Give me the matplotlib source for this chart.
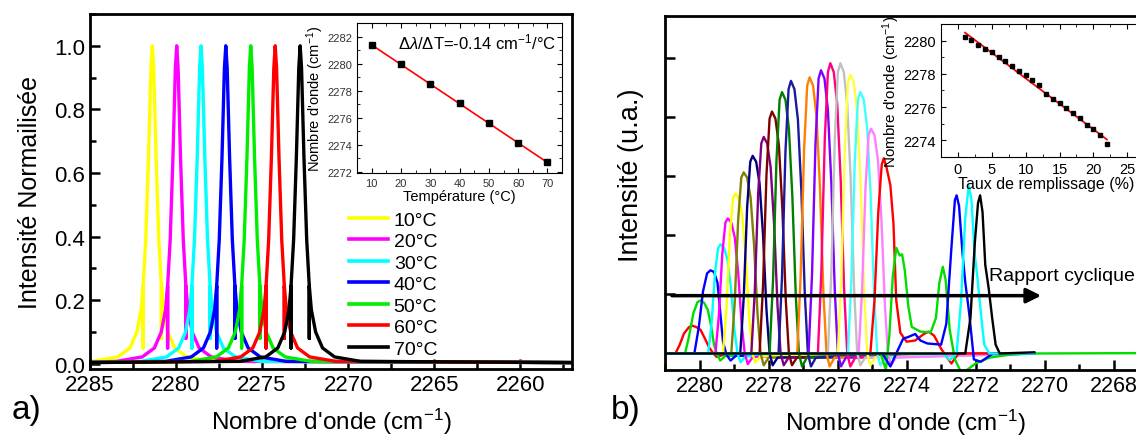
import matplotlib
matplotlib.use("Agg")
import matplotlib.pyplot as plt
from matplotlib.lines import Line2D
from matplotlib.ticker import MultipleLocator, NullFormatter

plt.rcParams['font.family'] = ['Liberation Sans', 'DejaVu Sans']
plt.rcParams['mathtext.fontset'] = 'custom'
plt.rcParams['mathtext.rm'] = 'Liberation Sans'
plt.rcParams['mathtext.it'] = 'Liberation Sans:italic'

# ---------- panel a) : normalised spectra vs temperature ----------
labels_a = ['10°C', '20°C', '30°C', '40°C', '50°C', '60°C', '70°C']
colors_a = ['#ffff00', '#ff00ff', '#00ffff', '#0000ff', '#00ee00', '#ff0000', '#000000']
level_a = [0.004, 0.008, 0.022, 0.05, 0.1, 0.17, 0.245, 0.05, 0.245, 0.39, 0.65, 0.93, 1.0,
           0.93, 0.65, 0.39, 0.245, 0.08, 0.245, 0.17, 0.1, 0.05, 0.022, 0.008, 0.004]
x_10 = [2285.5, 2284.88, 2283.38, 2282.68, 2282.28, 2282.03, 2281.91, 2281.91, 2281.91, 2281.76, 2281.60, 2281.46, 2281.38,
        2281.30, 2281.16, 2281.00, 2280.85, 2280.85, 2280.85, 2280.73, 2280.48, 2280.08, 2279.38, 2277.88, 2256.5]
x_20 = [2285.5, 2283.46, 2281.96, 2281.26, 2280.86, 2280.61, 2280.49, 2280.49, 2280.49, 2280.34, 2280.18, 2280.04, 2279.96,
        2279.88, 2279.74, 2279.58, 2279.43, 2279.43, 2279.43, 2279.31, 2279.06, 2278.66, 2277.96, 2276.46, 2256.5]
x_30 = [2285.5, 2282.05, 2280.55, 2279.85, 2279.45, 2279.20, 2279.08, 2279.08, 2279.08, 2278.93, 2278.77, 2278.63, 2278.55,
        2278.47, 2278.33, 2278.17, 2278.02, 2278.02, 2278.02, 2277.90, 2277.65, 2277.25, 2276.55, 2275.05, 2256.5]
x_40 = [2285.5, 2280.61, 2279.11, 2278.41, 2278.01, 2277.76, 2277.64, 2277.64, 2277.64, 2277.49, 2277.33, 2277.19, 2277.11,
        2277.03, 2276.89, 2276.73, 2276.58, 2276.58, 2276.58, 2276.46, 2276.21, 2275.81, 2275.11, 2273.61, 2256.5]
x_50 = [2285.5, 2279.16, 2277.66, 2276.96, 2276.56, 2276.31, 2276.19, 2276.19, 2276.19, 2276.04, 2275.88, 2275.74, 2275.66,
        2275.58, 2275.44, 2275.28, 2275.13, 2275.13, 2275.13, 2275.01, 2274.76, 2274.36, 2273.66, 2272.16, 2256.5]
x_60 = [2285.5, 2277.74, 2276.24, 2275.54, 2275.14, 2274.89, 2274.77, 2274.77, 2274.77, 2274.62, 2274.46, 2274.32, 2274.24,
        2274.16, 2274.02, 2273.86, 2273.71, 2273.71, 2273.71, 2273.59, 2273.34, 2272.94, 2272.24, 2270.74, 2256.5]
x_70 = [2285.5, 2276.29, 2274.79, 2274.09, 2273.69, 2273.44, 2273.32, 2273.32, 2273.32, 2273.17, 2273.01, 2272.87, 2272.79,
        2272.71, 2272.57, 2272.41, 2272.26, 2272.26, 2272.26, 2272.14, 2271.89, 2271.49, 2270.79, 2269.29, 2256.5]
spectra_a_x = [x_10, x_20, x_30, x_40, x_50, x_60, x_70]

temps = [10, 20, 30, 40, 50, 60, 70]
peak_pos_a = [2281.4, 2279.95, 2278.5, 2277.05, 2275.6, 2274.15, 2272.7]
fit_a_x = [10, 70]
fit_a_y = [2281.38, 2272.68]

# ---------- panel b) : spectra vs duty cycle ----------
colors_b = ['#ff0000', '#00dd00', '#0000ff', '#00ffff', '#ff00ff', '#ffff00', '#808000', '#000080',
            '#800080', '#800000', '#008000', '#1a1aa0', '#ff8000', '#8000ff', '#ff0080', '#c0c0c0',
            '#ffff40', '#40ffff', '#ff80ff', '#ff0000', '#00dd00', '#0000ff', '#00ffff', '#000000']
spectra_b_x = [
    [2280.95, 2280.7, 2280.58, 2280.45, 2280.3, 2280.21, 2280.1, 2279.97, 2279.85, 2279.72, 2279.6, 2279.5, 2279.3, 2270.3],
    [2280.95, 2280.42, 2280.3, 2280.18, 2280.06, 2279.97, 2279.87, 2279.76, 2279.66, 2279.58, 2279.5, 2279.4, 2279.25, 2270.3],
    [2280.95, 2280.15, 2280.02, 2279.9, 2279.78, 2279.68, 2279.58, 2279.48, 2279.4, 2279.32, 2279.22, 2279.1, 2278.95, 2270.3],
    [2280.95, 2279.75, 2279.65, 2279.55, 2279.46, 2279.39, 2279.29, 2279.19, 2279.09, 2278.99, 2278.90, 2278.81, 2278.67, 2270.3],
    [2280.95, 2279.54, 2279.44, 2279.34, 2279.25, 2279.18, 2279.08, 2278.98, 2278.88, 2278.78, 2278.69, 2278.60, 2278.46, 2270.3],
    [2280.95, 2279.32, 2279.22, 2279.12, 2279.03, 2278.96, 2278.86, 2278.76, 2278.66, 2278.56, 2278.47, 2278.38, 2278.24, 2270.3],
    [2280.95, 2279.08, 2278.98, 2278.88, 2278.79, 2278.72, 2278.62, 2278.52, 2278.42, 2278.32, 2278.23, 2278.14, 2278.00, 2270.3],
    [2280.95, 2278.82, 2278.72, 2278.62, 2278.53, 2278.46, 2278.36, 2278.26, 2278.16, 2278.06, 2277.97, 2277.88, 2277.74, 2270.3],
    [2280.95, 2278.50, 2278.40, 2278.30, 2278.21, 2278.14, 2278.04, 2277.94, 2277.84, 2277.74, 2277.65, 2277.56, 2277.42, 2270.3],
    [2280.95, 2278.26, 2278.16, 2278.06, 2277.97, 2277.90, 2277.80, 2277.70, 2277.60, 2277.50, 2277.41, 2277.32, 2277.18, 2270.3],
    [2280.95, 2277.97, 2277.87, 2277.77, 2277.68, 2277.61, 2277.51, 2277.41, 2277.31, 2277.21, 2277.12, 2277.03, 2276.89, 2270.3],
    [2280.95, 2277.71, 2277.61, 2277.51, 2277.42, 2277.35, 2277.25, 2277.15, 2277.05, 2276.95, 2276.86, 2276.77, 2276.63, 2270.3],
    [2280.95, 2277.17, 2277.07, 2276.97, 2276.88, 2276.81, 2276.71, 2276.61, 2276.51, 2276.41, 2276.32, 2276.23, 2276.09, 2270.3],
    [2280.95, 2276.84, 2276.74, 2276.64, 2276.55, 2276.48, 2276.38, 2276.28, 2276.18, 2276.08, 2275.99, 2275.90, 2275.76, 2270.3],
    [2280.95, 2276.57, 2276.47, 2276.37, 2276.28, 2276.21, 2276.11, 2276.01, 2275.91, 2275.81, 2275.72, 2275.63, 2275.49, 2270.3],
    [2280.95, 2276.28, 2276.18, 2276.08, 2275.99, 2275.92, 2275.82, 2275.72, 2275.62, 2275.52, 2275.43, 2275.34, 2275.20, 2270.3],
    [2280.95, 2275.99, 2275.89, 2275.79, 2275.70, 2275.63, 2275.53, 2275.43, 2275.33, 2275.23, 2275.14, 2275.05, 2274.91, 2270.3],
    [2280.95, 2275.70, 2275.60, 2275.50, 2275.41, 2275.34, 2275.24, 2275.14, 2275.04, 2274.94, 2274.85, 2274.76, 2274.62, 2270.3],
    [2280.95, 2275.39, 2275.29, 2275.19, 2275.10, 2275.03, 2274.93, 2274.83, 2274.73, 2274.63, 2274.54, 2274.45, 2274.31, 2270.3],
    [2280.95, 2275.05, 2274.93, 2274.82, 2274.72, 2274.66, 2274.58, 2274.47, 2274.38, 2274.30, 2274.18, 2274.0, 2273.75,
     2273.5, 2273.36, 2273.2, 2273.0, 2272.85, 2272.7, 2272.5, 2270.3],
    [2280.95, 2274.75, 2274.6, 2274.5, 2274.4, 2274.3, 2274.2, 2274.13, 2274.05, 2273.95, 2273.85, 2273.6, 2273.3, 2273.15,
     2273.05, 2272.95, 2272.87, 2272.75, 2272.6, 2272.42, 2272.3, 2272.0, 2271.6, 2271.0, 2270.3, 2265.0],
    [2280.95, 2274.7, 2274.47, 2274.3, 2274.1, 2273.95, 2273.75, 2273.6, 2273.4, 2273.0, 2272.85, 2272.7, 2272.6, 2272.55,
     2272.48, 2272.38, 2272.3, 2272.18, 2272.05, 2271.85, 2271.5, 2270.3],
    [2280.95, 2272.95, 2272.75, 2272.55, 2272.42, 2272.3, 2272.2, 2272.12, 2272.03, 2271.95, 2271.85, 2271.75, 2271.6, 2270.3],
    [2280.95, 2272.3, 2272.15, 2272.02, 2271.93, 2271.87, 2271.8, 2271.72, 2271.62, 2271.52, 2271.42, 2271.3, 2270.3],
]
spectra_b_y = [
    [0, 0, 0.14, 0.34, 0.45, 0.47, 0.45, 0.4, 0.26, 0.1, 0, -0.06, -0.02, 0],
    [0, 0, 0.3, 0.68, 0.87, 0.90, 0.86, 0.74, 0.45, 0.15, 0, -0.12, -0.04, 0],
    [0, 0, 0.45, 1.05, 1.36, 1.41, 1.38, 1.2, 0.7, 0.2, -0.02, -0.12, -0.04, 0],
    [0, 0, 0.52, 1.37, 1.79, 1.85, 1.79, 1.59, 1.11, 0.41, 0, -0.15, -0.05, 0],
    [0, 0, 0.64, 1.69, 2.22, 2.29, 2.22, 1.97, 1.37, 0.50, 0, -0.18, -0.06, 0],
    [0, 0, 0.76, 2.01, 2.63, 2.71, 2.63, 2.33, 1.63, 0.60, 0, -0.15, -0.05, 0],
    [0, 0, 0.86, 2.27, 2.98, 3.07, 2.98, 2.64, 1.84, 0.68, 0, -0.2, -0.07, 0],
    [0, 0, 0.94, 2.48, 3.25, 3.35, 3.25, 2.88, 2.01, 0.74, 0, -0.2, -0.07, 0],
    [0, 0, 1.03, 2.72, 3.56, 3.67, 3.56, 3.16, 2.20, 0.81, 0, -0.2, -0.07, 0],
    [0, 0, 1.15, 3.03, 3.98, 4.10, 3.98, 3.53, 2.46, 0.90, 0, -0.2, -0.07, 0],
    [0, 0, 1.24, 3.28, 4.30, 4.43, 4.30, 3.81, 2.66, 0.97, 0, -0.22, -0.07, 0],
    [0, 0, 1.29, 3.42, 4.48, 4.62, 4.48, 3.97, 2.77, 1.02, 0, -0.22, -0.07, 0],
    [0, 0, 1.31, 3.46, 4.54, 4.68, 4.54, 4.02, 2.81, 1.03, 0, -0.22, -0.07, 0],
    [0, 0, 1.34, 3.55, 4.66, 4.80, 4.66, 4.13, 2.88, 1.06, 0, -0.22, -0.07, 0],
    [0, 0, 1.38, 3.64, 4.77, 4.92, 4.77, 4.23, 2.95, 1.08, 0, -0.22, -0.07, 0],
    [0, 0, 1.38, 3.64, 4.77, 4.92, 4.77, 4.23, 2.95, 1.08, 0, -0.2, -0.07, 0],
    [0, 0, 1.32, 3.50, 4.59, 4.73, 4.59, 4.07, 2.84, 1.04, 0, -0.2, -0.07, 0],
    [0, 0, 1.24, 3.28, 4.30, 4.43, 4.30, 3.81, 2.66, 0.97, 0, -0.2, -0.07, 0],
    [0, 0, 1.07, 2.82, 3.70, 3.81, 3.70, 3.28, 2.29, 0.84, 0, -0.2, -0.07, 0],
    [0, 0, 0.9, 2.4, 3.2, 3.31, 3.15, 2.85, 2.2, 0.9, 0.35, 0.2, 0.22,
     0.33, 0.37, 0.3, 0.08, -0.05, -0.17, 0, 0],
    [0, 0, -0.28, 0.3, 1.3, 1.79, 1.66, 1.68, 1.4, 0.8, 0.45, 0.37, 0.36, 0.6,
     1.2, 1.47, 1.25, 0.4, -0.1, -0.32, -0.3, -0.17, -0.07, -0.02, 0, 0.01],
    [0, 0, -0.22, 0.0, 0.25, 0.28, 0.33, 0.22, 0.17, 0.15, 0.5, 1.8, 2.6, 2.68,
     2.5, 1.7, 1.21, 0.65, -0.1, -0.14, 0, 0],
    [0, 0, -0.11, 0.0, 0.9, 2.3, 2.84, 2.6, 1.7, 1.3, 0.7, 0.15, 0.0, 0],
    [0, 0, 0.6, 1.9, 2.55, 2.68, 2.4, 1.5, 1.1, 0.6, 0.15, 0.0, 0.02],
]
xticks_b = [2280, 2278, 2276, 2274, 2272, 2270, 2268]
arrow_x = [2280.8, 2270.1]
arrow_y = 0.98

fill_rate = list(range(1, 23))
peak_pos_b = [2280.22, 2280.06, 2279.76, 2279.48, 2279.32, 2279.02, 2278.76, 2278.47, 2278.15, 2277.91, 2277.61,
              2277.35, 2276.8, 2276.46, 2276.25, 2275.96, 2275.64, 2275.34, 2274.94, 2274.66, 2274.3, 2273.8]
fit_b_x = [1.05, 22]
fit_b_y = [2280.48, 2274.05]

fig = plt.figure(figsize=(11.36, 4.39), dpi=100)


def style_main(ax):
    for s in ax.spines.values():
        s.set_linewidth(2.0)
    ax.tick_params(which='both', direction='in', top=False, right=False, width=1.8, labelsize=16)
    ax.tick_params(which='major', length=7)
    ax.tick_params(which='minor', length=4)


# ----- panel a -----
ax1 = fig.add_axes([0.0792, 0.1572, 0.4243, 0.8087])
for xs, c in zip(spectra_a_x, colors_a):
    ax1.plot(xs, level_a, color=c, lw=2.4)
ax1.set_xlim(2285, 2257)
ax1.set_ylim(-0.016, 1.10)
ax1.xaxis.set_major_locator(MultipleLocator(5))
ax1.xaxis.set_minor_locator(MultipleLocator(2.5))
ax1.yaxis.set_major_locator(MultipleLocator(0.2))
ax1.yaxis.set_minor_locator(MultipleLocator(0.1))
ax1.yaxis.set_major_formatter(plt.FuncFormatter(lambda v, p: f"{v:.1f}"))
style_main(ax1)
ax1.set_xlabel("Nombre d'onde (cm$^{-1}$)", fontsize=17.5)
ax1.set_ylabel("Intensité Normailisée", fontsize=18)
ax1.xaxis.set_label_coords(0.5, -0.105)
ax1.yaxis.set_label_coords(-0.10, 0.5)

handles = [Line2D([], [], color=c, lw=2.6) for c in colors_a]
fig.legend(handles, labels_a, loc='upper left', bbox_to_anchor=(349 / 1136, 1 - 212 / 439),
           frameon=False, fontsize=14, handlelength=2.0, handletextpad=0.3, labelspacing=0.2,
           borderpad=0, borderaxespad=0)

ins1 = fig.add_axes([0.3143, 0.6036, 0.1805, 0.3417])
ins1.plot(fit_a_x, fit_a_y, color='#ff0000', lw=1.2)
ins1.plot(temps, peak_pos_a, 's', color='black', ms=4)
ins1.set_xlim(5, 75)
ins1.set_ylim(2271.9, 2283)
ins1.xaxis.set_major_locator(MultipleLocator(10))
ins1.xaxis.set_minor_locator(MultipleLocator(5))
ins1.yaxis.set_major_locator(MultipleLocator(2))
ins1.yaxis.set_minor_locator(MultipleLocator(1))
ins1.tick_params(which='both', direction='in', top=True, right=True, labelsize=8, labelcolor='#333333')
ins1.tick_params(which='major', length=3.5)
ins1.tick_params(which='minor', length=2)
ins1.set_xlabel("Température (°C)", fontsize=10.5, labelpad=1)
ins1.set_ylabel("Nombre d'onde (cm$^{-1}$)", fontsize=10.5, labelpad=1)
ins1.text(0.97, 0.88, "Δ$\\lambda$/ΔT=-0.14 cm$^{-1}$/°C", transform=ins1.transAxes,
          ha='right', va='center', fontsize=12)

fig.text(0.010, 0.065, "a)", fontsize=24, va='center')

# ----- panel b -----
ax2 = fig.add_axes([0.5854, 0.1549, 0.4648, 0.8064])
for i, (xs, ys, c) in enumerate(zip(spectra_b_x, spectra_b_y, colors_b)):
    ax2.plot(xs, ys, color=c, lw=1.7, zorder=2 + i * 0.01)
ax2.annotate('', xy=(arrow_x[1], arrow_y), xytext=(arrow_x[0], arrow_y),
             arrowprops=dict(arrowstyle='-|>', lw=2.5, color='black', mutation_scale=22,
                             shrinkA=0, shrinkB=0), zorder=5)
ax2.text(2271.6, 1.33, "Rapport cyclique", fontsize=14, va='center', ha='left')
ax2.set_xlim(2281.0, 2265.7)
ax2.set_ylim(-0.28, 5.72)
ax2.set_xticks(xticks_b)
ax2.xaxis.set_minor_locator(MultipleLocator(1))
ax2.yaxis.set_major_locator(MultipleLocator(1))
ax2.yaxis.set_major_formatter(NullFormatter())
style_main(ax2)
ax2.tick_params(axis='x', labelsize=15.5)
ax2.set_xlabel("Nombre d'onde (cm$^{-1}$)", fontsize=17.5)
ax2.set_ylabel("Intensité (u.a.)", fontsize=19.5)
ax2.xaxis.set_label_coords(0.456, -0.105)
ax2.yaxis.set_label_coords(-0.04, 0.554)

ins2 = fig.add_axes([0.8283, 0.6401, 0.1849, 0.3030])
ins2.plot(fit_b_x, fit_b_y, color='#ff0000', lw=1.3)
ins2.plot(fill_rate, peak_pos_b, 's', color='black', ms=2.5)
ins2.set_xlim(-2.5, 28.5)
ins2.set_ylim(2273.0, 2281.0)
ins2.xaxis.set_major_locator(MultipleLocator(5))
ins2.xaxis.set_minor_locator(MultipleLocator(2.5))
ins2.yaxis.set_major_locator(MultipleLocator(2))
ins2.yaxis.set_minor_locator(MultipleLocator(1))
ins2.tick_params(which='both', direction='in', top=True, right=True, labelsize=10.5)
ins2.tick_params(which='major', length=3.5)
ins2.tick_params(which='minor', length=2)
ins2.set_xlabel("Taux de remplissage (%)", fontsize=11.5, labelpad=0)
ins2.set_ylabel("Nombre d'onde (cm$^{-1}$)", fontsize=11, labelpad=1)

fig.text(0.538, 0.065, "b)", fontsize=24, va='center')

fig.savefig("out.png", dpi=100)
